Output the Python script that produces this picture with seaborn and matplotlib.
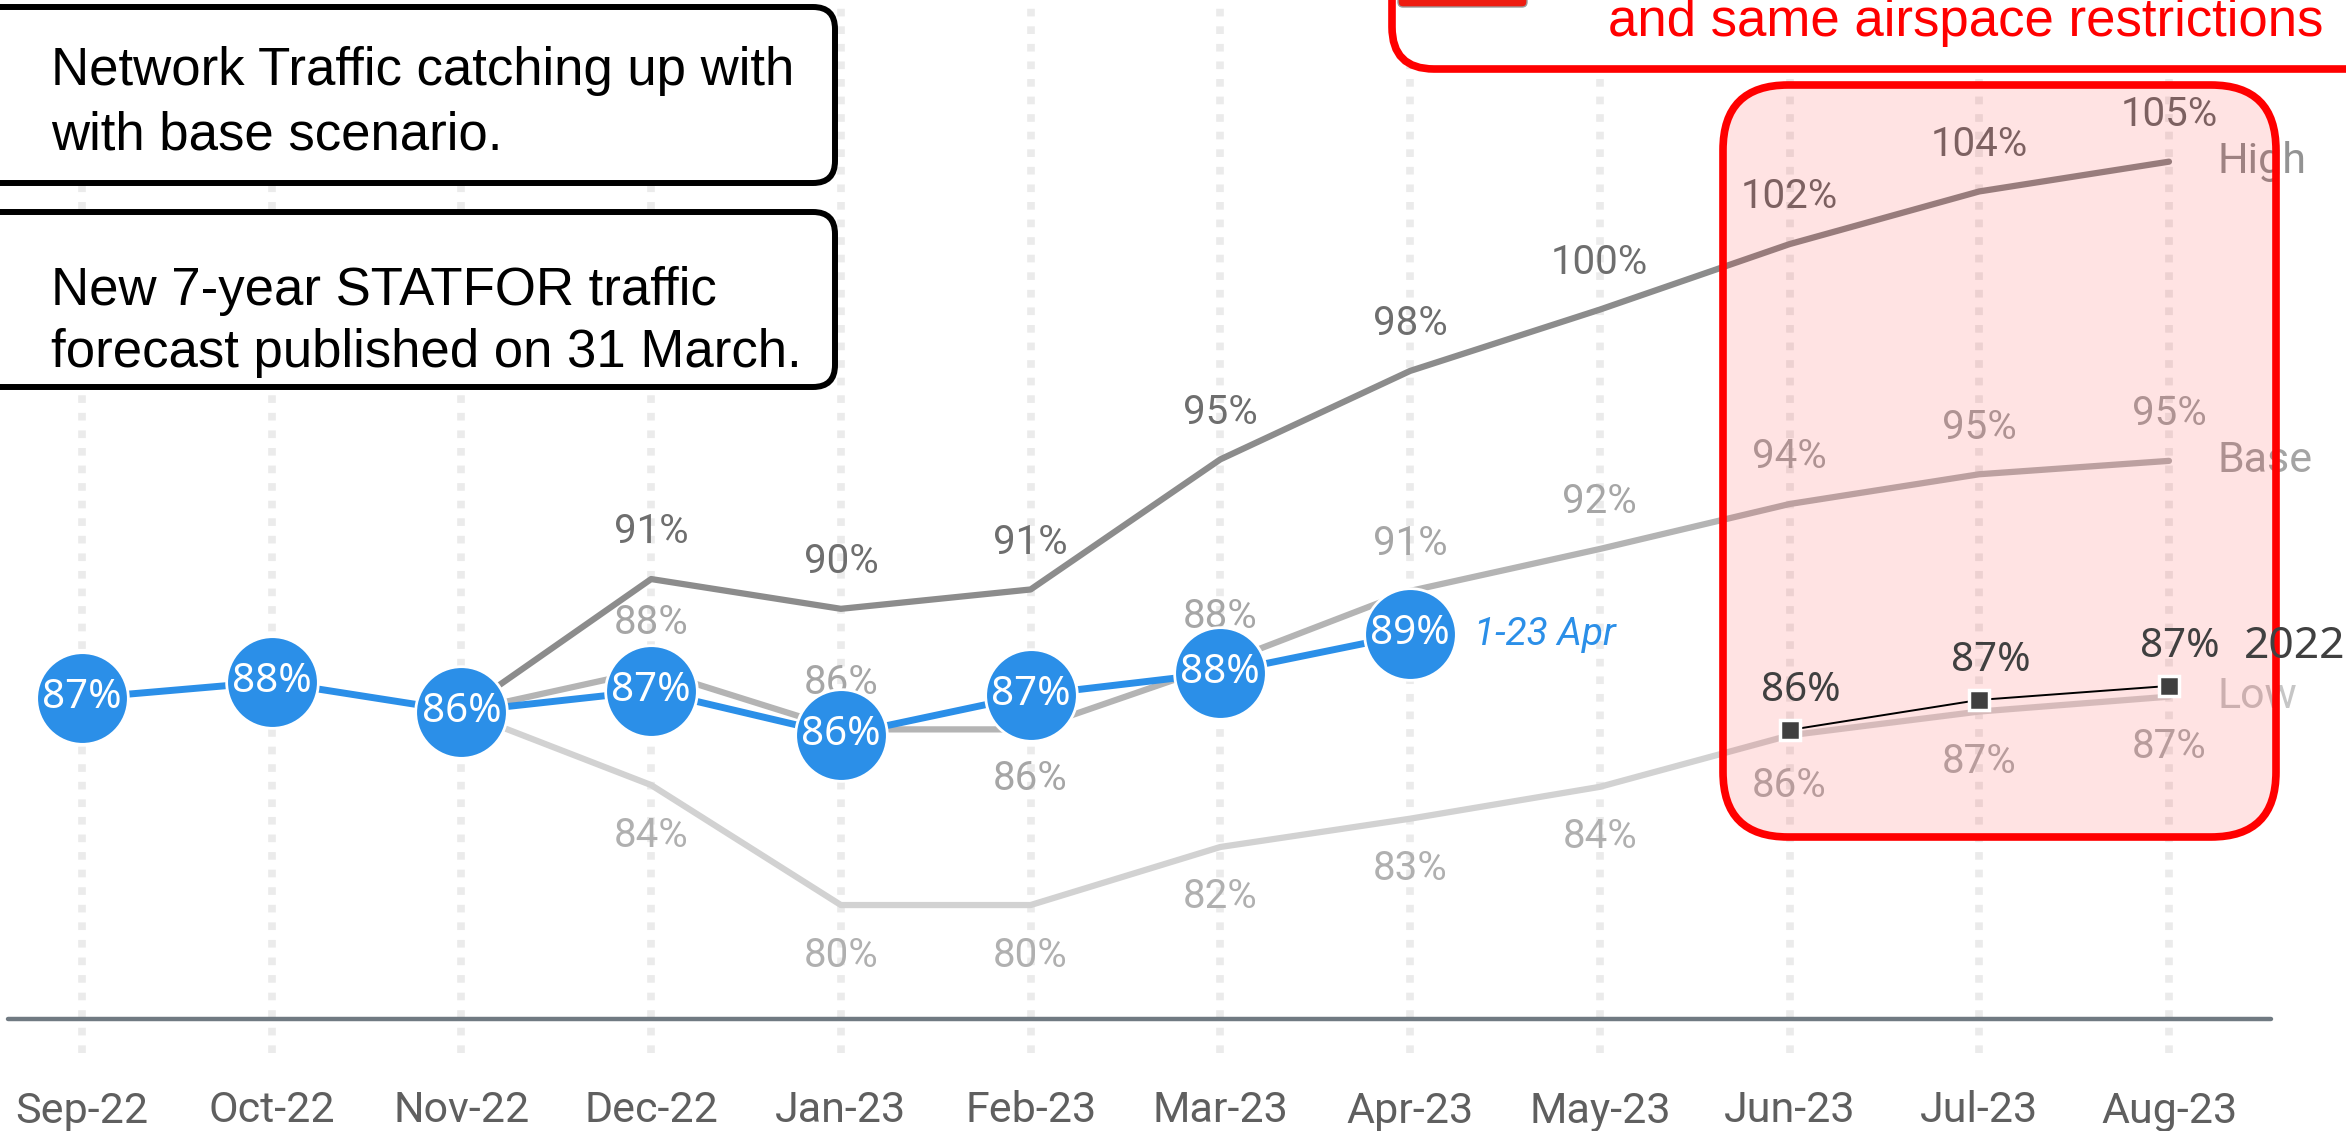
import matplotlib
matplotlib.use('Agg')
import matplotlib.pyplot as plt
import seaborn as sns
from matplotlib.patches import FancyBboxPatch

# ---- data ----
months = ['Sep-22', 'Oct-22', 'Nov-22', 'Dec-22', 'Jan-23', 'Feb-23',
          'Mar-23', 'Apr-23', 'May-23', 'Jun-23', 'Jul-23', 'Aug-23']

# actual traffic Sep-22 .. Apr-23 (% of 2019)
actual = [86.95, 87.5, 86.5, 87.2, 85.7, 87.05, 87.8, 89.1]
actual_labels = ['87%', '88%', '86%', '87%', '86%', '87%', '88%', '89%']

# forecast scenarios Nov-22 .. Aug-23
high = [86.5, 90.95, 89.95, 90.6, 94.97, 97.94, 100.0, 102.2, 103.97, 104.97]
high_labels = ['', '91%', '90%', '91%', '95%', '98%', '100%', '102%', '104%', '105%']
base = [86.5, 87.9, 85.9, 85.9, 88.1, 90.55, 91.96, 93.47, 94.47, 94.92]
base_labels = ['', '88%', '86%', '86%', '88%', '91%', '92%', '94%', '95%', '95%']
low = [86.5, 84.03, 80.0, 80.0, 81.95, 82.9, 83.97, 85.7, 86.5, 87.0]
low_labels = ['', '84%', '80%', '80%', '82%', '83%', '84%', '86%', '87%', '87%']

# 2022 traffic Jun..Aug
y2022 = [85.88, 86.89, 87.36]
y2022_labels = ['86%', '87%', '87%']

x_actual = list(range(len(actual)))
x_scen = list(range(2, 2 + len(high)))
x_2022 = list(range(9, 9 + len(y2022)))

BLUE = '#2b8fe8'

sns.set_style('white')
plt.rcParams['font.family'] = ['Roboto', 'DejaVu Sans']

W, H = 2346, 1131
fig = plt.figure(figsize=(W / 100, H / 100), dpi=100)

# overlay axes in pixel coords for the text boxes
ov = fig.add_axes([0, 0, 1, 1], zorder=5)
ov.set_xlim(0, W)
ov.set_ylim(H, 0)
ov.axis('off')
ov.patch.set_alpha(0)

ax = fig.add_axes([0, 78 / H, 1, 1053 / H])

# scenario lines
for vals, col, z in [(low, '#d2d2d2', 2), (base, '#b4b4b4', 2.1), (high, '#8c8c8c', 2.2)]:
    sns.lineplot(x=x_scen, y=vals, ax=ax, color=col, linewidth=4.5, zorder=z, legend=False)

# scenario value labels
for i, (xv, yv) in enumerate(zip(x_scen, high)):
    if high_labels[i]:
        ax.annotate(high_labels[i], (xv, yv), xytext=(0, 34), textcoords='offset points',
                    ha='center', va='center', fontsize=29, color='#6e6e6e', zorder=3)
for i, (xv, yv) in enumerate(zip(x_scen, base)):
    if base_labels[i]:
        dy = -35 if months[xv] == 'Feb-23' else 34
        ax.annotate(base_labels[i], (xv, yv), xytext=(0, dy), textcoords='offset points',
                    ha='center', va='center', fontsize=29, color='#a6a6a6', zorder=3)
for i, (xv, yv) in enumerate(zip(x_scen, low)):
    if low_labels[i]:
        ax.annotate(low_labels[i], (xv, yv), xytext=(0, -36), textcoords='offset points',
                    ha='center', va='center', fontsize=29, color='#b0b0b0', zorder=3)

for name, vals, col in [('High', high, '#939393'), ('Base', base, '#a4a4a4'), ('Low', low, '#c6c6c6')]:
    ax.annotate(name, (x_scen[-1], vals[-1]), xytext=(35, 0), textcoords='offset points',
                ha='left', va='center', fontsize=31, color=col, zorder=3)

# actual traffic
sns.lineplot(x=x_actual, y=actual, ax=ax, color=BLUE, linewidth=5, zorder=4, legend=False,
             marker='o', markersize=66, markerfacecolor=BLUE,
             markeredgecolor='white', markeredgewidth=2)
for xv, yv, lab in zip(x_actual, actual, actual_labels):
    ax.text(xv, yv, lab, ha='center', va='center', fontsize=29, color='white',
            family=['Noto Sans', 'DejaVu Sans'], zorder=6)
ax.annotate('1-23 Apr', (x_actual[-1], actual[-1]), xytext=(46, 0), textcoords='offset points',
            ha='left', va='center', fontsize=28, color=BLUE, style='italic', zorder=6)

# highlight box over summer months
ax.add_patch(FancyBboxPatch((1723, 85), 553, 752, boxstyle='round,pad=0,rounding_size=65',
                            transform=ov.transData, fc=(1, 0, 0, 0.11), ec='#ff0000',
                            lw=5.5, zorder=7, clip_on=False))

# 2022 reference
sns.lineplot(x=x_2022, y=y2022, ax=ax, color='black', linewidth=1.4, zorder=8, legend=False,
             marker='s', markersize=14, markerfacecolor='#404040',
             markeredgecolor='white', markeredgewidth=2.5)
for xv, yv, lab in zip(x_2022, y2022, y2022_labels):
    ax.annotate(lab, (xv, yv), xytext=(8, 28), textcoords='offset points', ha='center',
                va='center', fontsize=29, color='#404040', family=['Noto Sans', 'DejaVu Sans'],
                zorder=9)
ax.annotate('2022', (x_2022[-1], y2022[-1]), xytext=(54, 28), textcoords='offset points',
            ha='left', va='center', fontsize=32, color='#404040',
            family=['Noto Sans', 'DejaVu Sans'], zorder=9)

# axes styling
ax.set_xlim(-0.432, 11.933)
ax.set_ylim(75.03, 110.4)
ax.set_xticks(range(len(months)))
ax.set_xticklabels(months)
ax.set_yticks([])
ax.set_xlabel('')
ax.set_ylabel('')
ax.tick_params(axis='x', length=0, pad=27, labelsize=31, labelcolor='#5f5f5f')
ax.set_axisbelow(True)
ax.grid(axis='x', color='#ebebeb', linewidth=5.5, linestyle=(0, (1.0, 1.3)))
for s in ax.spines.values():
    s.set_visible(False)
ax.axhline(76.17, xmin=8 / W, xmax=2271 / W, color='#707a82', lw=3.2, zorder=1)

# left text boxes
arial = ['Liberation Sans', 'DejaVu Sans']
boxes = [((7, 183), [('Network Traffic catching up with', 85), ('with base scenario.', 150)]),
         ((212, 387), [('New 7-year STATFOR traffic', 305), ('forecast published on 31 March.', 367)])]
for (y0, y1), lines in boxes:
    ov.add_patch(FancyBboxPatch((-40, y0), 875, y1 - y0, boxstyle='round,pad=0,rounding_size=22',
                                fc='white', ec='black', lw=4.3))
    for txt, yb in lines:
        ov.text(51, yb, txt, ha='left', va='baseline', fontsize=38, color='black', family=arial)

# top-right red note (cut off by the frame)
ov.add_patch(FancyBboxPatch((1392, -200), 1100, 269, boxstyle='round,pad=0,rounding_size=42',
                            fc='white', ec='#ff0000', lw=5.5))
ov.add_patch(FancyBboxPatch((1398, -30), 129, 37, boxstyle='round,pad=0,rounding_size=5',
                            fc='#ee1c10', ec='#9a9a9a', lw=1))
ov.text(1608, 36, 'and same airspace restrictions', ha='left', va='baseline', fontsize=38,
        color='#ff0000', family=arial)

fig.savefig('out.png', dpi=100)
